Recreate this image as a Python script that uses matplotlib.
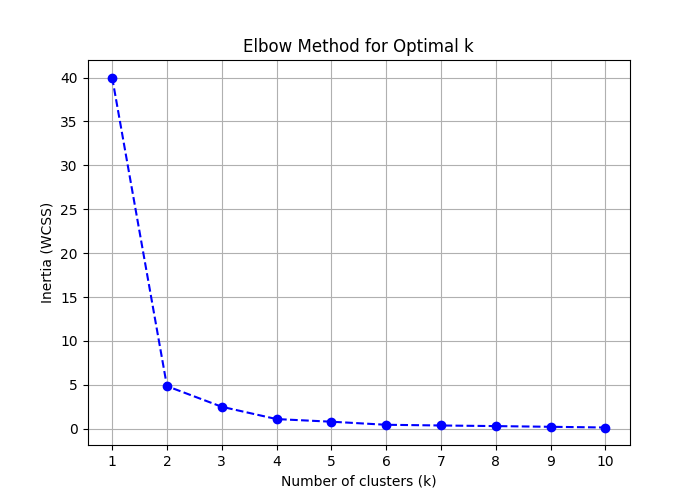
import matplotlib
matplotlib.use("Agg")
import matplotlib.pyplot as plt

k_values = [1, 2, 3, 4, 5, 6, 7, 8, 9, 10]
inertia = [40.0, 4.85, 2.5, 1.1, 0.8, 0.45, 0.37, 0.3, 0.22, 0.14]

fig, ax = plt.subplots(figsize=(7, 5), dpi=100)
ax.plot(k_values, inertia, marker='o', linestyle='--', color='b')
ax.set_title('Elbow Method for Optimal k')
ax.set_xlabel('Number of clusters (k)')
ax.set_ylabel('Inertia (WCSS)')
ax.set_xticks(k_values)
ax.grid(True)
fig.savefig('out.png')
